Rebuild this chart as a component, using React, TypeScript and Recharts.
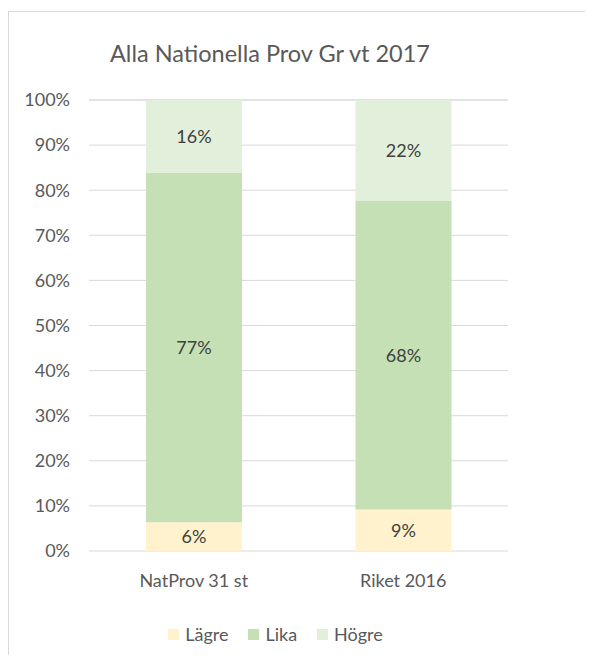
import { BarChart, Bar, XAxis, YAxis, CartesianGrid, Legend, LabelList } from "recharts";

const categories = ["NatProv 31 st", "Riket 2016"];
const lagre = [6.4, 9.2];
const lika = [77.4, 68.4];
const hogre = [16.2, 22.4];
const yTicks = [0, 10, 20, 30, 40, 50, 60, 70, 80, 90, 100];

const series = [
  { key: "lagre", name: "Lägre", color: "#FFF2CC" },
  { key: "lika", name: "Lika", color: "#C5E0B4" },
  { key: "hogre", name: "Högre", color: "#E2EFDA" },
];

const data = categories.map((c, i) => ({
  name: c,
  lagre: lagre[i],
  lika: lika[i],
  hogre: hogre[i],
}));

const FONT = "Lato, 'Noto Sans', sans-serif";

function LegendContent() {
  return (
    <div style={{ display: "flex", justifyContent: "center", alignItems: "center", height: 20, paddingRight: 23 }}>
      {series.map((s) => (
        <div key={s.key} style={{ display: "flex", alignItems: "center", marginRight: 20 }}>
          <span style={{ width: 11, height: 11, background: s.color, display: "inline-block", marginRight: 6 }} />
          <span style={{ fontFamily: FONT, fontSize: 18, color: "#595959" }}>{s.name}</span>
        </div>
      ))}
    </div>
  );
}

export default function App() {
  return (
    <div
      style={{
        position: "relative",
        top: 3,
        width: 576,
        height: 646,
        overflow: "hidden",
        borderTop: "1px solid #d9d9d9",
        borderLeft: "1px solid #d9d9d9",
        fontFamily: FONT,
      }}
    >
      <div
        style={{
          position: "absolute",
          top: 28,
          left: 0,
          width: 522,
          textAlign: "center",
          fontSize: 23.5,
          lineHeight: "26px",
          color: "#595959",
        }}
      >
        Alla Nationella Prov Gr vt 2017
      </div>
      <BarChart
        width={576}
        height={646}
        data={data}
        barSize={96}
        margin={{ top: 88, right: 77, bottom: 47, left: 0 }}
      >
        <CartesianGrid vertical={false} stroke="#d9d9d9" />
        <XAxis
          dataKey="name"
          axisLine={false}
          tickLine={false}
          tickSize={0}
          tickMargin={23}
          height={40}
          tick={{ fontSize: 18, fill: "#595959", fontFamily: FONT }}
        />
        <YAxis
          domain={[0, 100]}
          ticks={yTicks}
          interval={0}
          width={80}
          axisLine={false}
          tickLine={false}
          tickSize={0}
          tickMargin={19}
          tickFormatter={(v) => `${v}%`}
          tick={{ fontSize: 18, fill: "#595959", fontFamily: FONT }}
        />
        <Legend
          verticalAlign="bottom"
          content={<LegendContent />}
          wrapperStyle={{ left: 0, width: 576, bottom: 14 }}
        />
        {series.map((s) => (
          <Bar key={s.key} dataKey={s.key} name={s.name} stackId="a" fill={s.color} isAnimationActive={false}>
            <LabelList
              dataKey={s.key}
              position="center"
              formatter={(v: number) => `${Math.round(v)}%`}
              style={{ fontSize: 18, fill: "#404040", fontFamily: FONT }}
            />
          </Bar>
        ))}
      </BarChart>
    </div>
  );
}
